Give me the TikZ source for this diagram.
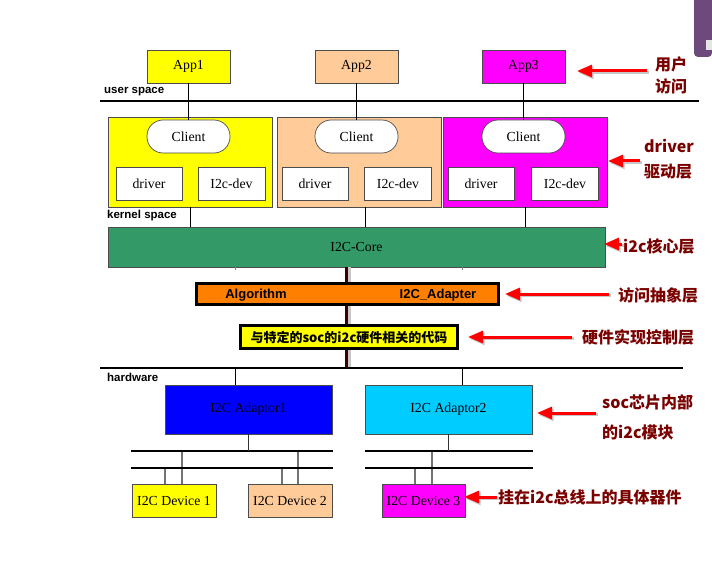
\documentclass[tikz,border=0pt]{standalone}
\usepackage{fontspec}
\setmainfont{Liberation Serif}
\newfontfamily\arialf{Liberation Sans}
\newfontfamily\cjk{Noto Sans CJK SC}
\usetikzlibrary{arrows.meta}
\definecolor{cyel}{HTML}{FFFF00}
\definecolor{cpeach}{HTML}{FFCC99}
\definecolor{cmag}{HTML}{FF00FF}
\definecolor{cgreen}{HTML}{339966}
\definecolor{corange}{HTML}{FF8000}
\definecolor{cblue}{HTML}{0000FF}
\definecolor{ccyan}{HTML}{00CCFF}
\definecolor{annred}{HTML}{7A0000}
\definecolor{maroon}{HTML}{3A0000}
\definecolor{cpurple}{HTML}{6D4A7B}
\newcommand\annot[4]{%
  \node[ann] (#1) at (#2,#3) {#4};}
\newcommand\annarrow[2]{%
  \draw[arrsh, transform canvas={shift={(1.5pt,-1.8pt)}}] (#1) -- (#2);
  \draw[redarr] (#1) -- (#2);}
\begin{document}
\begin{tikzpicture}[x=1pt,y=-1pt,
  box/.style={draw=black!70, line width=0.7pt, inner sep=0pt, font=\fontsize{13.8}{16}\selectfont},
  wbox/.style={box, fill=white},
  client/.style={box, fill=white, rounded corners=16pt, minimum width=83pt, minimum height=33pt},
  lbl/.style={font=\arialf\bfseries\fontsize{11.5}{13}\selectfont, inner sep=0pt, anchor=west},
  ann/.style={font=\cjk\bfseries\fontsize{16}{18}\selectfont, text=annred, inner sep=0pt, anchor=west},
  redarr/.style={draw=red, line width=3pt, -{Triangle[length=15pt,width=12pt]}},
  arrsh/.style={draw=black!22, line width=3pt, -{Triangle[length=15pt,width=12pt]}},
  thinline/.style={draw=black, line width=1pt},
  thickline/.style={draw=black, line width=2.5pt},
  stub/.style={draw=black!55, line width=1.8pt},
]
\useasboundingbox (0,0) rectangle (712,564);
\fill[white] (0,0) rectangle (712,564);

% corner artefact
\fill[cpurple] (694,0) [rounded corners=4pt] -- (694,57) -- (712,57) [sharp corners] -- (712,0) -- cycle;
\fill[black!10] (706,40) rectangle (712,50);

% apps
\node[box, fill=cyel, minimum width=83pt, minimum height=33pt] (app1) at (188.5,66.5) {App1};
\node[box, fill=cpeach, minimum width=83pt, minimum height=33pt] (app2) at (356.5,66.5) {App2};
\node[box, fill=cmag, minimum width=83pt, minimum height=33pt] (app3) at (523.5,66.5) {App3};

% driver containers
\node[box, fill=cyel, minimum width=164pt, minimum height=90pt] (drvY) at (190,162) {};
\node[box, fill=cpeach, minimum width=164pt, minimum height=90pt] (drvP) at (359,162) {};
\node[box, fill=cmag, minimum width=164pt, minimum height=90pt] (drvM) at (525,162) {};

\node[client] (cl1) at (188.5,136.5) {Client};
\node[client] (cl2) at (356.5,136.5) {Client};
\node[client] (cl3) at (523.5,136.5) {Client};

\node[wbox, minimum width=66pt, minimum height=33pt] (d1) at (149,183.5) {driver};
\node[wbox, minimum width=67pt, minimum height=33pt] (i1) at (231.5,183.5) {I2c-dev};
\node[wbox, minimum width=66pt, minimum height=33pt] (d2) at (315,183.5) {driver};
\node[wbox, minimum width=67pt, minimum height=33pt] (i2) at (398,183.5) {I2c-dev};
\node[wbox, minimum width=66pt, minimum height=33pt] (d3) at (481,183.5) {driver};
\node[wbox, minimum width=67pt, minimum height=33pt] (i3) at (565,183.5) {I2c-dev};

% app to client
\draw[thinline] (app1.south) -- (cl1.north);
\draw[thinline] (app2.south) -- (cl2.north);
\draw[thinline] (app3.south) -- (cl3.north);

% user space line
\coordinate (usL) at (100,101);
\coordinate (usR) at (699,101);
\draw[thickline] (usL) -- (usR);
\node[lbl] (uslbl) at (104,92) {user space};
\node[lbl] (kslbl) at (107,216) {kernel space};

% core
\node[box, fill=cgreen, minimum width=497pt, minimum height=40pt] (core) at (356.5,247) {I2C-Core};
\coordinate (k1) at (190,207);
\coordinate (k2) at (365,207);
\coordinate (k3) at (525,207);
\draw[thinline] (k1) -- (k1 |- core.north);
\draw[thinline] (k2) -- (k2 |- core.north);
\draw[thinline] (k3) -- (k3 |- core.north);
\coordinate (t1) at (235,267);
\coordinate (t2) at (462,267);
\draw[black!50, line width=0.8pt] (t1) -- ++(0,3);
\draw[black!50, line width=0.8pt] (t2) -- ++(0,3);

% hardware line
\coordinate (hwL) at (100,368);
\coordinate (hwR) at (683,368);

% maroon spine
\coordinate (sp1) at (346,267);
\coordinate (sp2) at (346,368);
\draw[black!22, line width=3pt] ([xshift=3pt]sp1) -- ([xshift=3pt]sp2);
\draw[maroon, line width=3pt] (sp1) -- (sp2);

% algorithm / adapter
\node[draw=black, line width=3pt, fill=corange, minimum width=302pt, minimum height=21pt, inner sep=0pt] (algo) at (347.5,294) {};
\node[font=\arialf\bfseries\fontsize{13}{15}\selectfont, inner sep=0pt] (algtxt) at (256,295) {Algorithm};
\node[font=\arialf\bfseries\fontsize{13}{15}\selectfont, inner sep=0pt] (adptxt) at (438,295) {I2C\_Adapter};

\node[draw=black, line width=3pt, fill=cyel, minimum width=217pt, minimum height=23pt, inner sep=0pt,
      font=\cjk\bfseries\fontsize{13}{15}\selectfont] (code) at (349,337) {与特定的soc的i2c硬件相关的代码};

\draw[thickline] (hwL) -- (hwR);
\node[lbl] (hwlbl) at (107,377) {hardware};

% adaptors
\node[box, fill=cblue, minimum width=167pt, minimum height=49pt] (ad1) at (248.5,409.5) {I2C Adaptor1};
\node[box, fill=ccyan, minimum width=167pt, minimum height=49pt] (ad2) at (448.5,409.5) {I2C Adaptor2};
\coordinate (h1) at (235,368);
\coordinate (h2) at (462,368);
\draw[thinline] (h1) -- (h1 |- ad1.north);
\draw[thinline] (h2) -- (h2 |- ad2.north);

% devices
\node[box, fill=cyel, minimum width=84pt, minimum height=33pt] (dev1) at (174,500.5) {I2C Device 1};
\node[box, fill=cpeach, minimum width=84pt, minimum height=33pt] (dev2) at (290,500.5) {I2C Device 2};
\node[box, fill=cmag, minimum width=83pt, minimum height=33pt] (dev3) at (423.5,500.5) {I2C Device 3};

% device stubs
\coordinate (s1a) at (165,468); \coordinate (s1b) at (182,451);
\coordinate (s2a) at (282,468); \coordinate (s2b) at (298,451);
\coordinate (s3a) at (415,468); \coordinate (s3b) at (432,451);
\foreach \s in {s1a,s1b,s2a,s2b}{\draw[stub] (\s) -- (\s |- dev1.north);}
\foreach \s in {s3a,s3b}{\draw[stub] (\s) -- (\s |- dev3.north);}

% buses
\coordinate (b1aL) at (131,451); \coordinate (b1aR) at (333,451);
\coordinate (b1bL) at (131,468); \coordinate (b1bR) at (333,468);
\coordinate (b2aL) at (365,451); \coordinate (b2aR) at (533,451);
\coordinate (b2bL) at (365,468); \coordinate (b2bR) at (533,468);
\draw[black, line width=2.8pt] (b1aL) -- (b1aR);
\draw[black, line width=2.8pt] (b1bL) -- (b1bR);
\draw[black, line width=2.8pt] (b2aL) -- (b2aR);
\draw[black, line width=2.8pt] (b2bL) -- (b2bR);
\draw[black!80, line width=1.5pt] (ad1.south) -- (ad1.south |- b1aL);
\draw[black!80, line width=1.5pt] (ad2.south) -- (ad2.south |- b2aL);

% annotations
\annot{n1a}{655}{64}{用户}
\annot{n1b}{655}{86}{访问}
\annot{n2a}{644}{146}{driver}
\annot{n2b}{644}{172}{驱动层}
\annot{n3}{623}{246}{i2c核心层}
\annot{n4}{618}{295}{访问抽象层}
\annot{n5}{582}{337}{硬件实现控制层}
\annot{n6a}{602}{402}{soc芯片内部}
\annot{n6b}{602}{432}{的i2c模块}
\annot{n7}{498}{497}{挂在i2c总线上的具体器件}

\coordinate (a1t) at (647,71);  \coordinate (a1h) at (577,71);
\coordinate (a2t) at (640,161); \coordinate (a2h) at (608,161);
\coordinate (a3t) at (622,244); \coordinate (a3h) at (604,244);
\coordinate (a4t) at (609,294); \coordinate (a4h) at (505,294);
\coordinate (a5t) at (572,337); \coordinate (a5h) at (468,337);
\coordinate (a6t) at (596,413); \coordinate (a6h) at (537,413);
\coordinate (a7t) at (497,497); \coordinate (a7h) at (464,497);
\annarrow{a1t}{a1h}
\annarrow{a2t}{a2h}
\annarrow{a3t}{a3h}
\annarrow{a4t}{a4h}
\annarrow{a5t}{a5h}
\annarrow{a6t}{a6h}
\annarrow{a7t}{a7h}
\end{tikzpicture}
\end{document}
